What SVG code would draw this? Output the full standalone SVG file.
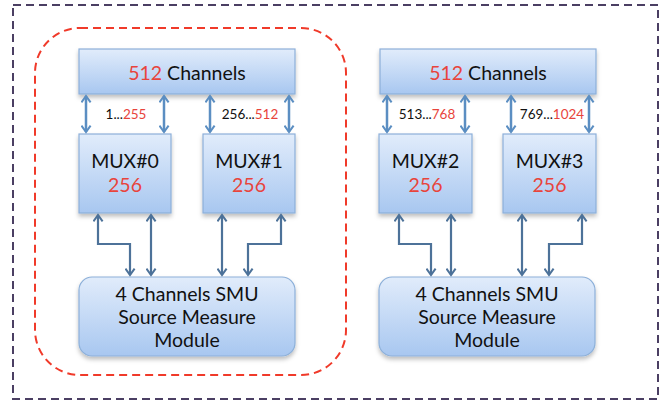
<svg xmlns="http://www.w3.org/2000/svg" width="666" height="400" viewBox="0 0 666 400">
<defs>
<linearGradient id="g" x1="0" y1="0" x2="0" y2="1">
<stop offset="0" stop-color="#e1ecfb"/>
<stop offset="1" stop-color="#a8c7f0"/>
</linearGradient>
<filter id="sh" x="-10%" y="-10%" width="120%" height="130%">
<feDropShadow dx="0" dy="3" stdDeviation="2" flood-color="#000" flood-opacity="0.25"/>
</filter>
<marker id="au" viewBox="0 0 12 12" refX="10" refY="6" markerWidth="11" markerHeight="11" orient="auto-start-reverse" markerUnits="userSpaceOnUse">
<path d="M3,1 L10,6 L3,11" fill="none" stroke="#5b8ec2" stroke-width="2.2"/>
</marker>
<marker id="ad" viewBox="0 0 12 12" refX="10" refY="6" markerWidth="11" markerHeight="11" orient="auto-start-reverse" markerUnits="userSpaceOnUse">
<path d="M3,1 L10,6 L3,11" fill="none" stroke="#4d7299" stroke-width="2.2"/>
</marker>
</defs>
<style>
.box{fill:url(#g);stroke:#8db0d9;stroke-width:1.2;filter:url(#sh)}
.t{font-family:Lato,"Open Sans",sans-serif;fill:#111;text-anchor:middle}
.big{font-size:19.5px}
.sm{font-size:13.5px}
.r{fill:#e8443c}
.up{fill:none;stroke:#5b8ec2;stroke-width:2.5;marker-start:url(#au);marker-end:url(#au)}
.dn{fill:none;stroke:#4d7299;stroke-width:2.2;marker-start:url(#ad);marker-end:url(#ad)}
</style>
<rect width="666" height="400" fill="#fff"/>
<rect x="13" y="5" width="645" height="394" fill="none" stroke="#4b3f63" stroke-width="2" stroke-dasharray="8,5"/>
<rect x="35" y="28" width="311" height="347" rx="45" fill="none" stroke="#f03a2a" stroke-width="2" stroke-dasharray="8,5"/>

<g id="ch-left"><rect class="box" x="79" y="49" width="216" height="45"/><text class="t big" x="187" y="80"><tspan class="r">512</tspan> Channels</text></g>
<g id="ch-right"><rect class="box" x="380" y="49" width="216" height="45"/><text class="t big" x="488" y="80"><tspan class="r">512</tspan> Channels</text></g>

<g id="mux0"><rect class="box" x="79" y="134" width="92" height="79"/><text class="t big" x="125" y="168">MUX#0</text><text class="t big r" x="125" y="192">256</text></g>
<g id="mux1"><rect class="box" x="203" y="134" width="92" height="79"/><text class="t big" x="249" y="168">MUX#1</text><text class="t big r" x="249" y="192">256</text></g>
<g id="mux2"><rect class="box" x="379" y="134" width="93" height="79"/><text class="t big" x="425.5" y="168">MUX#2</text><text class="t big r" x="425.5" y="192">256</text></g>
<g id="mux3"><rect class="box" x="503" y="134" width="93" height="79"/><text class="t big" x="549.5" y="168">MUX#3</text><text class="t big r" x="549.5" y="192">256</text></g>

<g id="smu-left"><rect class="box" x="79" y="277" width="216" height="79" rx="13"/><text class="t big" x="187" y="301">4 Channels SMU</text><text class="t big" x="187" y="324">Source Measure</text><text class="t big" x="187" y="347">Module</text></g>
<g id="smu-right"><rect class="box" x="379" y="277" width="216" height="79" rx="13"/><text class="t big" x="487" y="301">4 Channels SMU</text><text class="t big" x="487" y="324">Source Measure</text><text class="t big" x="487" y="347">Module</text></g>

<g id="labels">
<text class="t sm" x="126" y="119">1...<tspan class="r">255</tspan></text>
<text class="t sm" x="250" y="119">256...<tspan class="r">512</tspan></text>
<text class="t sm" x="427" y="119">513...<tspan class="r">768</tspan></text>
<text class="t sm" x="552" y="119">769...<tspan class="r">1024</tspan></text>
</g>

<g id="connectors">
<path class="up" d="M86,96 V132"/>
<path class="up" d="M164,96 V132"/>
<path class="up" d="M210,96 V132"/>
<path class="up" d="M289,96 V132"/>
<path class="up" d="M387,96 V132"/>
<path class="up" d="M465,96 V132"/>
<path class="up" d="M511,96 V132"/>
<path class="up" d="M589,96 V132"/>

<path class="dn" d="M98,215 V244 H130 V275"/>
<path class="dn" d="M151,215 V275"/>
<path class="dn" d="M222,215 V275"/>
<path class="dn" d="M281,215 V244 H248 V275"/>
<path class="dn" d="M399,215 V244 H431 V275"/>
<path class="dn" d="M451,215 V275"/>
<path class="dn" d="M522,215 V275"/>
<path class="dn" d="M582,215 V244 H549 V275"/>
</g>
</svg>
